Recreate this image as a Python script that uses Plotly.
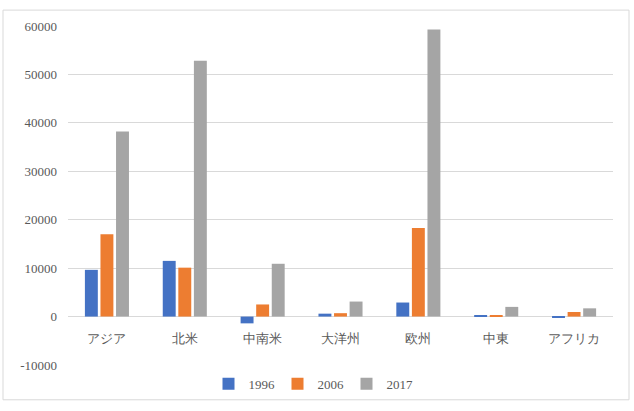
import plotly.graph_objects as go

categories = ["アジア", "北米", "中南米", "大洋州", "欧州", "中東", "アフリカ"]
v1996 = [9650, 11500, -1400, 600, 2900, 250, -100]
v2006 = [17000, 10100, 2500, 700, 18300, 200, 950]
v2017 = [38200, 52800, 10900, 3100, 59300, 2000, 1700]
series_names = ["1996", "2006", "2017"]
colors = ["#4472C4", "#ED7D31", "#A5A5A5"]
y_ticks = [-10000, 0, 10000, 20000, 30000, 40000, 50000, 60000]
y_tick_text = ["-10000", "0", "10000", "20000", "30000", "40000", "50000", "60000"]

W, H = 634, 411
L, R, T, B = 68, 21, 26, 44
pw, ph = W - L - R, H - T - B

fig = go.Figure()
for name, vals, c in zip(series_names, [v1996, v2006, v2017], colors):
    fig.add_trace(go.Bar(x=categories, y=vals, name=name, marker=dict(color=c, line=dict(width=0))))

font = dict(family="Liberation Serif", size=13, color="#595959")

zero_pos = (0 - y_ticks[0]) / (y_ticks[-1] - y_ticks[0])

fig.update_layout(
    width=W, height=H,
    margin=dict(l=L, r=R, t=T, b=B),
    paper_bgcolor="white", plot_bgcolor="white",
    font=font,
    barmode="group", bargap=0.4, bargroupgap=0.17,
    showlegend=True,
    legend=dict(orientation="h", x=(312 - L) / pw, xanchor="center",
                y=(H - B - 386) / ph, yanchor="middle",
                font=dict(family="Liberation Serif", size=13, color="#595959"),
                itemwidth=30, tracegroupgap=0, entrywidth=24, entrywidthmode="pixels"),
    xaxis=dict(anchor="free", position=zero_pos, showgrid=False, showline=False,
               ticks="", tickfont=dict(family="Liberation Serif", size=13, color="#595959"),
               ticklabelstandoff=12),
    yaxis=dict(range=[y_ticks[0], y_ticks[-1]], tickvals=y_ticks, ticktext=y_tick_text,
               showgrid=True, gridcolor="#D9D9D9", gridwidth=1, zeroline=True,
               zerolinecolor="#D9D9D9", zerolinewidth=1, showline=False, ticks="",
               tickfont=font, ticklabelstandoff=10),
    shapes=[dict(type="rect", xref="paper", yref="paper",
                 x0=(3 - L) / pw, x1=(629 - L) / pw,
                 y0=(H - B - 402) / ph, y1=(H - B - 10) / ph,
                 line=dict(color="#D9D9D9", width=1), fillcolor="rgba(0,0,0,0)", layer="below")],
)

fig.write_html("out.html")
